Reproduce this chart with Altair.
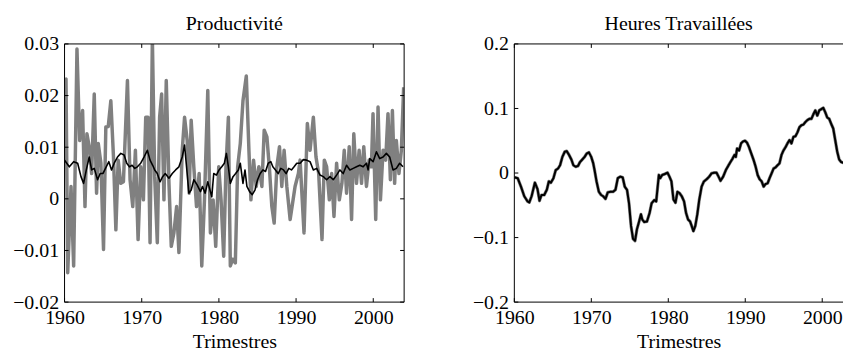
import altair as alt
import pandas as pd

FONT = "Liberation Serif"
GRAY = "#808080"

# ---------------- Productivité : série grise (trimestres, valeurs) ----------------
prod_gris_t = [1960.00, 1960.19, 1960.41, 1960.84, 1961.18, 1961.61, 1961.96, 1962.34, 1962.65, 1962.90,
               1963.20, 1963.51, 1963.85, 1964.15, 1964.37, 1964.71, 1965.05, 1965.35, 1965.66, 1966.00,
               1966.34, 1966.65, 1966.95, 1967.29, 1967.63, 1968.15, 1968.49, 1968.84, 1969.18, 1969.53,
               1969.87, 1970.22, 1970.52, 1970.82, 1971.08, 1971.38, 1971.68, 1972.02, 1972.32, 1972.58,
               1972.88, 1973.18, 1973.53, 1973.83, 1974.17, 1974.52, 1974.82, 1975.25, 1975.55, 1975.89,
               1976.15, 1976.41, 1976.75, 1977.10, 1977.44, 1977.78, 1978.13, 1978.56, 1978.90, 1979.25,
               1979.59, 1979.98, 1980.28, 1980.62, 1980.92, 1981.23, 1981.48, 1981.78, 1982.13, 1982.43,
               1982.77, 1983.12, 1983.55, 1983.89, 1984.15, 1984.49, 1984.84, 1985.18, 1985.57, 1985.87,
               1986.22, 1986.56, 1986.86, 1987.16, 1987.51, 1987.85, 1988.15, 1988.45, 1988.80, 1989.23,
               1989.87, 1990.30, 1990.52, 1991.03, 1991.46, 1991.81, 1992.24, 1992.58, 1992.93, 1993.36,
               1993.66, 1993.96, 1994.31, 1994.61, 1994.91, 1995.25, 1995.60, 1995.94, 1996.24, 1996.54,
               1996.89, 1997.19, 1997.48, 1997.83, 1998.17, 1998.48, 1998.77, 1999.12, 1999.46, 1999.76,
               1999.97, 2000.32, 2000.62, 2000.93, 2001.27, 2001.61, 2001.91, 2002.22, 2002.48, 2002.77,
               2002.99, 2003.33, 2003.64, 2003.94]
prod_gris_v = [0.0230, 0.0232, -0.0143, 0.0024, -0.0130, 0.0290, 0.0113, 0.0171, -0.0015, 0.0126,
               0.0101, 0.0049, 0.0203, 0.0011, 0.0107, 0.0069, -0.0098, 0.0139, 0.0140, 0.0190,
               0.0081, -0.0060, 0.0075, 0.0030, 0.0033, 0.0229, 0.0037, -0.0015, 0.0094, -0.0079,
               0.0062, -0.0002, 0.0158, 0.0158, -0.0085, 0.0310, 0.0043, -0.0085, 0.0158, 0.0203,
               -0.0002, 0.0229, 0.0030, -0.0092, -0.0066, -0.0015, -0.0104, 0.0094, 0.0158, 0.0113,
               0.0011, 0.0152, 0.0062, -0.0015, 0.0049, -0.0130, -0.0002, 0.0210, -0.0066, -0.0002,
               -0.0092, 0.0062, -0.0002, -0.0111, 0.0062, 0.0158, -0.0130, -0.0117, -0.0124, 0.0062,
               0.0107, 0.0190, 0.0238, 0.0094, -0.0002, 0.0075, 0.0024, 0.0062, 0.0024, 0.0133,
               0.0120, 0.0056, -0.0015, -0.0047, 0.0062, 0.0101, 0.0024, 0.0094, 0.0024, -0.0040,
               0.0024, 0.0049, 0.0075, -0.0066, 0.0146, 0.0094, 0.0158, 0.0081, 0.0049, -0.0079,
               0.0075, 0.0062, -0.0002, 0.0049, -0.0034, 0.0069, -0.0002, 0.0030, 0.0094, 0.0011,
               0.0101, -0.0040, 0.0126, 0.0030, 0.0094, 0.0030, 0.0101, 0.0024, 0.0075, 0.0062,
               0.0165, -0.0040, 0.0178, -0.0002, 0.0094, 0.0075, 0.0165, 0.0037, 0.0171, 0.0030,
               0.0113, 0.0049, 0.0094, 0.0216]

# ---------------- Productivité : série noire ----------------
prod_noir_t = [1960.00, 1960.62, 1961.18, 1961.70, 1962.13, 1962.47, 1962.82, 1963.20, 1963.51, 1963.85,
               1964.28, 1964.62, 1964.97, 1965.40, 1965.74, 1966.09, 1966.43, 1966.86, 1967.29, 1967.72,
               1968.06, 1968.41, 1968.75, 1969.10, 1969.44, 1969.87, 1970.30, 1970.73, 1971.08, 1971.42,
               1971.68, 1972.02, 1972.37, 1972.71, 1973.05, 1973.53, 1973.96, 1974.39, 1974.82, 1975.25,
               1975.55, 1975.81, 1976.11, 1976.41, 1976.75, 1977.18, 1977.61, 1977.87, 1978.22, 1978.56,
               1978.90, 1979.08, 1979.33, 1979.68, 1980.02, 1980.37, 1980.71, 1980.97, 1981.23, 1981.48,
               1981.83, 1982.17, 1982.52, 1982.77, 1983.12, 1983.38, 1983.63, 1983.98, 1984.32, 1984.67,
               1985.01, 1985.35, 1985.70, 1986.04, 1986.39, 1986.73, 1986.99, 1987.33, 1987.68, 1988.02,
               1988.37, 1988.71, 1989.05, 1989.40, 1989.74, 1990.09, 1990.52, 1990.94, 1991.37, 1991.81,
               1992.24, 1992.67, 1993.10, 1993.53, 1993.96, 1994.39, 1994.82, 1995.25, 1995.68, 1996.11,
               1996.54, 1996.97, 1997.40, 1997.83, 1998.26, 1998.69, 1999.12, 1999.33, 1999.55, 1999.98,
               2000.41, 2000.84, 2001.27, 2001.70, 2002.13, 2002.56, 2002.99, 2003.42, 2003.85]
prod_noir_v = [0.0075, 0.0062, 0.0072, 0.0069, 0.0043, 0.0030, 0.0056, 0.0081, 0.0056, 0.0059,
               0.0037, 0.0049, 0.0049, 0.0062, 0.0072, 0.0056, 0.0069, 0.0081, 0.0088, 0.0085,
               0.0069, 0.0062, 0.0065, 0.0059, 0.0062, 0.0069, 0.0081, 0.0094, 0.0075, 0.0065,
               0.0056, 0.0049, 0.0033, 0.0043, 0.0049, 0.0040, 0.0049, 0.0056, 0.0062, 0.0081,
               0.0104, 0.0062, 0.0011, 0.0017, 0.0037, 0.0027, 0.0014, 0.0024, 0.0011, 0.0033,
               0.0014, 0.0004, 0.0049, 0.0046, 0.0056, 0.0062, 0.0069, 0.0088, 0.0062, 0.0030,
               0.0043, 0.0049, 0.0056, 0.0069, 0.0030, 0.0056, 0.0024, 0.0014, 0.0008, 0.0017,
               0.0037, 0.0049, 0.0056, 0.0053, 0.0069, 0.0072, 0.0062, 0.0056, 0.0049, 0.0059,
               0.0056, 0.0049, 0.0059, 0.0056, 0.0062, 0.0069, 0.0069, 0.0076, 0.0075, 0.0072,
               0.0056, 0.0059, 0.0046, 0.0043, 0.0037, 0.0043, 0.0037, 0.0046, 0.0056, 0.0049,
               0.0065, 0.0056, 0.0059, 0.0062, 0.0065, 0.0062, 0.0069, 0.0056, 0.0078, 0.0072,
               0.0091, 0.0078, 0.0081, 0.0088, 0.0081, 0.0056, 0.0059, 0.0069, 0.0062]

# ---------------- Heures travaillées ----------------
heures_t = [1960.00, 1960.43, 1960.86, 1961.29, 1961.72, 1961.94, 1962.24, 1962.67, 1963.01, 1963.27,
            1963.53, 1963.88, 1964.22, 1964.48, 1964.74, 1965.08, 1965.38, 1965.68, 1965.94, 1966.24,
            1966.55, 1966.80, 1967.11, 1967.41, 1967.67, 1967.97, 1968.27, 1968.53, 1968.83, 1969.13,
            1969.39, 1969.69, 1969.99, 1970.25, 1970.42, 1970.68, 1970.98, 1971.28, 1971.54, 1971.84,
            1972.14, 1972.49, 1972.83, 1973.14, 1973.44, 1973.78, 1974.08, 1974.34, 1974.64, 1974.90,
            1975.16, 1975.42, 1975.68, 1975.93, 1976.19, 1976.45, 1976.62, 1976.88, 1977.23, 1977.57,
            1977.83, 1978.17, 1978.43, 1978.60, 1978.78, 1978.95, 1979.21, 1979.55, 1979.90, 1980.15,
            1980.41, 1980.67, 1980.93, 1981.19, 1981.45, 1981.75, 1982.05, 1982.31, 1982.57, 1982.83,
            1983.04, 1983.26, 1983.51, 1983.77, 1984.03, 1984.33, 1984.63, 1984.98, 1985.32, 1985.62,
            1985.93, 1986.27, 1986.53, 1986.79, 1987.13, 1987.48, 1987.78, 1988.08, 1988.34, 1988.60,
            1988.77, 1988.94, 1989.20, 1989.46, 1989.72, 1989.97, 1990.23, 1990.49, 1990.79, 1991.09,
            1991.35, 1991.61, 1991.87, 1992.13, 1992.39, 1992.64, 1992.90, 1993.16, 1993.42, 1993.68,
            1993.94, 1994.19, 1994.45, 1994.71, 1994.97, 1995.23, 1995.49, 1995.75, 1996.00, 1996.26,
            1996.52, 1996.78, 1997.04, 1997.30, 1997.55, 1997.81, 1998.07, 1998.33, 1998.59, 1998.85,
            1999.10, 1999.36, 1999.62, 1999.88, 2000.14, 2000.40, 2000.65, 2000.91, 2001.17, 2001.43,
            2001.69, 2001.95, 2002.20, 2002.46, 2002.72, 2003.00]
heures_v = [-0.0066, -0.0080, -0.0210, -0.0360, -0.0440, -0.0455, -0.0360, -0.0150, -0.0250, -0.0430,
            -0.0340, -0.0340, -0.0260, -0.0130, -0.0150, -0.0080, 0.0046, 0.0070, 0.0120, 0.0250,
            0.0330, 0.0340, 0.0280, 0.0210, 0.0120, 0.0097, 0.0110, 0.0170, 0.0210, 0.0250,
            0.0300, 0.0320, 0.0250, 0.0150, 0.0046, -0.0130, -0.0290, -0.0340, -0.0360, -0.0400,
            -0.0300, -0.0290, -0.0290, -0.0260, -0.0080, -0.0056, -0.0070, -0.0210, -0.0260, -0.0470,
            -0.0820, -0.1020, -0.1050, -0.0870, -0.0760, -0.0640, -0.0720, -0.0760, -0.0750, -0.0620,
            -0.0470, -0.0420, -0.0440, -0.0240, -0.0030, -0.0080, -0.0030, -0.0015, 0.0005, -0.0056,
            -0.0130, -0.0410, -0.0460, -0.0290, -0.0310, -0.0360, -0.0440, -0.0620, -0.0720, -0.0750,
            -0.0820, -0.0900, -0.0820, -0.0640, -0.0410, -0.0210, -0.0130, -0.0097, -0.0056, -0.0005,
            0.0005, 0.0005, -0.0056, -0.0120, -0.0056, 0.0046, 0.0110, 0.0170, 0.0220, 0.0280,
            0.0250, 0.0380, 0.0350, 0.0460, 0.0490, 0.0500, 0.0470, 0.0400, 0.0300, 0.0200,
            0.0097, -0.0030, -0.0097, -0.0130, -0.0210, -0.0170, -0.0160, -0.0080, -0.0005, 0.0070,
            0.0087, 0.0120, 0.0150, 0.0280, 0.0350, 0.0400, 0.0460, 0.0510, 0.0460, 0.0560,
            0.0570, 0.0630, 0.0710, 0.0740, 0.0750, 0.0790, 0.0820, 0.0840, 0.0840, 0.0910,
            0.0970, 0.0890, 0.0970, 0.0990, 0.1010, 0.0940, 0.0860, 0.0840, 0.0760, 0.0690,
            0.0510, 0.0330, 0.0210, 0.0170, 0.0160, 0.0160]

# ---------------- Axes ----------------
x_ticks = [1960, 1970, 1980, 1990, 2000]
prod_y_ticks = [-0.02, -0.01, 0, 0.01, 0.02, 0.03]
heures_y_ticks = [-0.2, -0.1, 0, 0.1, 0.2]

W1, W2, H, TL = 342, 331, 260, 4

prod_g = pd.DataFrame({"t": prod_gris_t, "v": prod_gris_v})
prod_b = pd.DataFrame({"t": prod_noir_t, "v": prod_noir_v})
heur = pd.DataFrame({"t": heures_t, "v": heures_v})
xt = pd.DataFrame({"t": x_ticks})
one = pd.DataFrame({"k": [0]})


def x_axis():
    return alt.Axis(values=x_ticks, format="d", title="Trimestres", ticks=False, tickSize=0,
                    domain=False, grid=False, labelPadding=6, titlePadding=4,
                    labelFlush=False, labelOverlap=False)


def y_axis(yticks, fmt):
    return alt.Axis(values=yticks, title=None, ticks=False, tickSize=0, domain=False, grid=False,
                    labelPadding=6, labelFlush=False, labelOverlap=False,
                    labelExpr="datum.value == 0 ? '0' : replace(format(datum.value, '" + fmt + "'), '-', '\u2212')")


def panel(title, gray_df, black_df, gray_w, black_w, xdom, ydom, yticks, fmt, W, right_side):
    xs = alt.Scale(domain=xdom, nice=False, zero=False)
    ys = alt.Scale(domain=ydom, nice=False, zero=False)
    X = alt.X("t:Q", scale=xs, axis=x_axis())
    Y = alt.Y("v:Q", scale=ys, axis=y_axis(yticks, fmt))

    gray = alt.Chart(gray_df).mark_line(color=GRAY, strokeWidth=gray_w, clip=True,
                                        strokeJoin="round").encode(x=X, y=Y)
    black = alt.Chart(black_df).mark_line(color="black", strokeWidth=black_w, clip=True,
                                          strokeJoin="round").encode(x=X, y=Y)
    yt = pd.DataFrame({"v": yticks})
    tick_style = dict(color="black", strokeWidth=1)
    xb = alt.Chart(xt).mark_rule(**tick_style).encode(x=X, y=alt.value(H), y2=alt.value(H - TL))
    xtop = alt.Chart(xt).mark_rule(**tick_style).encode(x=X, y=alt.value(0), y2=alt.value(TL))
    yl = alt.Chart(yt).mark_rule(**tick_style).encode(y=Y, x=alt.value(0), x2=alt.value(TL))
    layers = [gray, black, xb, xtop, yl]
    fr = dict(color="black", strokeWidth=1)
    layers.append(alt.Chart(one).mark_rule(**fr).encode(x=alt.value(0), x2=alt.value(W), y=alt.value(0)))
    layers.append(alt.Chart(one).mark_rule(**fr).encode(x=alt.value(0), x2=alt.value(W), y=alt.value(H)))
    layers.append(alt.Chart(one).mark_rule(**fr).encode(x=alt.value(0), y=alt.value(0), y2=alt.value(H)))
    if right_side:
        yr = alt.Chart(yt).mark_rule(**tick_style).encode(y=Y, x=alt.value(W), x2=alt.value(W - TL))
        layers.append(yr)
        layers.append(alt.Chart(one).mark_rule(**fr).encode(x=alt.value(W), y=alt.value(0), y2=alt.value(H)))
    return alt.layer(*layers).properties(
        width=W, height=H,
        title=alt.TitleParams(text=title, font=FONT, fontSize=20, fontWeight="normal",
                              color="black", anchor="middle", baseline="alphabetic", offset=-16),
    )


left = panel("Productivité", prod_g, prod_b, 3.5, 1.6, [1960, 2004], [-0.02, 0.03],
             prod_y_ticks, ".2f", W1, True)
right = panel("Heures Travaillées", heur, heur, 3.2, 2.0, [1960, 2002.7], [-0.2, 0.2],
              heures_y_ticks, ".1f", W2, False)

chart = alt.hconcat(left, right, spacing=67).properties(
    padding={"left": 12, "top": 13, "right": 0, "bottom": 0},
    background="white",
).configure_view(strokeWidth=0).configure_axis(
    labelFont=FONT, labelFontSize=20, labelColor="black",
    titleFont=FONT, titleFontSize=20, titleFontWeight="normal", titleColor="black",
).configure_concat(spacing=67)

chart.save("out.html", embed_options={"renderer": "svg", "actions": False})
